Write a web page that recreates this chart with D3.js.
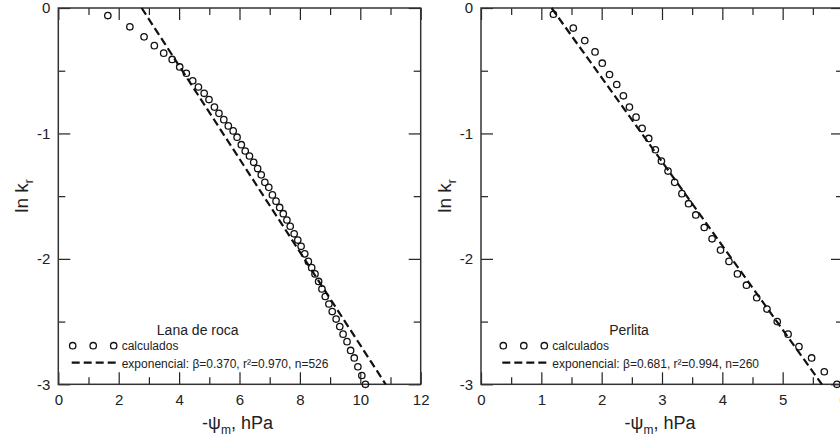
<!DOCTYPE html>
<html>
<head>
<meta charset="utf-8">
<script src="https://cdn.jsdelivr.net/npm/d3@7"></script>
<style>
  body { margin: 0; background: #fff; }
  svg { display: block; }
  text { font-family: "Liberation Sans", Arial, sans-serif; fill: #222; }
</style>
</head>
<body>
<svg id="chart" width="840" height="441"></svg>
<script>
// Lana de roca: calculated points
const lanaX = [1.64, 2.37, 2.84, 3.18, 3.49, 3.77, 4.02, 4.24, 4.45, 4.64, 4.83, 4.99, 5.17, 5.32, 5.48, 5.63, 5.79, 5.92,
    6.06, 6.19, 6.33, 6.47, 6.60, 6.72, 6.84, 6.97, 7.09, 7.21, 7.33, 7.45, 7.57, 7.68, 7.81, 7.93, 8.04, 8.16,
    8.28, 8.39, 8.50, 8.62, 8.73, 8.84, 8.96, 9.07, 9.20, 9.32, 9.43, 9.56, 9.68, 9.80, 9.92, 10.05, 10.17];
const lanaY = [-0.06, -0.15, -0.23, -0.30, -0.36, -0.41, -0.47, -0.52, -0.58, -0.63, -0.68, -0.73, -0.79, -0.84, -0.89, -0.94, -0.98, -1.03,
    -1.09, -1.14, -1.18, -1.23, -1.28, -1.33, -1.39, -1.43, -1.49, -1.54, -1.59, -1.64, -1.69, -1.74, -1.80, -1.85, -1.90, -1.96,
    -2.02, -2.07, -2.12, -2.18, -2.24, -2.30, -2.36, -2.42, -2.48, -2.54, -2.60, -2.66, -2.73, -2.79, -2.86, -2.93, -3.00];
// exponential fit, end points
const lanaFitX = [2.76, 10.84];
const lanaFitY = [0, -3];

// Perlita
const perlitaX = [1.20, 1.53, 1.72, 1.89, 2.01, 2.13, 2.25, 2.36, 2.46, 2.57, 2.67, 2.78, 2.89, 2.99, 3.10, 3.21, 3.33,
    3.44, 3.56, 3.70, 3.83, 3.97, 4.11, 4.25, 4.40, 4.57, 4.74, 4.91, 5.09, 5.27, 5.48, 5.69, 5.90];
const perlitaY = [-0.05, -0.16, -0.26, -0.35, -0.44, -0.53, -0.61, -0.70, -0.79, -0.87, -0.96, -1.04, -1.13, -1.22, -1.30, -1.39, -1.48,
    -1.56, -1.65, -1.75, -1.84, -1.93, -2.02, -2.12, -2.21, -2.31, -2.40, -2.50, -2.60, -2.70, -2.79, -2.90, -3.00];
const perlitaFitX = [1.17, 5.65];
const perlitaFitY = [0, -3];

// ticks
const yMajor = [0, -1, -2, -3];
const yMinor = [-0.5, -1.5, -2.5];
const lanaXMajor = [0, 2, 4, 6, 8, 10, 12];
const lanaXMinor = [1, 3, 5, 7, 9, 11];
const perlitaXMajor = [0, 1, 2, 3, 4, 5, 6];
const perlitaXMinor = [0.5, 1.5, 2.5, 3.5, 4.5, 5.5];

const fitLabels = ["exponencial: \u03b2=0.370, r\u00b2=0.970, n=526", "exponencial: \u03b2=0.681, r\u00b2=0.994, n=260"];
const titles = ["Lana de roca", "Perlita"];

const svg = d3.select("#chart");
const top_ = 8, bottom = 384.3;
const plain = d => String(d);

function drawPanel(p) {
    const x = d3.scaleLinear().domain(p.xDomain).range([p.left, p.right]);
    const y = d3.scaleLinear().domain([-3, 0]).range([bottom, top_]);
    const g = svg.append("g");

    // axes, ticks pointing inward on all sides
    const axes = [
        [d3.axisBottom(x).tickValues(p.major).tickSize(-12).tickPadding(10).tickFormat(plain), `translate(0,${bottom})`],
        [d3.axisBottom(x).tickValues(p.minor).tickSize(-7).tickFormat(""), `translate(0,${bottom})`],
        [d3.axisTop(x).tickValues(p.major).tickSize(-12).tickFormat(""), `translate(0,${top_})`],
        [d3.axisTop(x).tickValues(p.minor).tickSize(-7).tickFormat(""), `translate(0,${top_})`],
        [d3.axisLeft(y).tickValues(yMajor).tickSize(-12).tickPadding(8).tickFormat(plain), `translate(${p.left},0)`],
        [d3.axisLeft(y).tickValues(yMinor).tickSize(-7).tickFormat(""), `translate(${p.left},0)`],
        [d3.axisRight(y).tickValues(yMajor).tickSize(-12).tickFormat(""), `translate(${p.right},0)`],
        [d3.axisRight(y).tickValues(yMinor).tickSize(-7).tickFormat(""), `translate(${p.right},0)`]
    ];
    axes.forEach(a => {
        const ag = g.append("g").attr("transform", a[1]).call(a[0]);
        ag.select(".domain").remove();
        ag.selectAll("line").attr("stroke", "#222").attr("stroke-width", 1.2);
        ag.selectAll("text")
            .attr("font-size", 15)
            .attr("font-family", '"Liberation Sans", Arial, sans-serif')
            .attr("fill", "#222");
    });

    g.append("rect")
        .attr("x", p.left).attr("y", top_)
        .attr("width", p.right - p.left).attr("height", bottom - top_)
        .attr("fill", "none").attr("stroke", "#333").attr("stroke-width", 1.5);

    // fit line
    const line = d3.line().x(d => x(d[0])).y(d => y(d[1]));
    g.append("path")
        .datum(d3.zip(p.fitX, p.fitY))
        .attr("d", line)
        .attr("fill", "none").attr("stroke", "#111")
        .attr("stroke-width", 2.2).attr("stroke-dasharray", "8,4");

    // points
    g.append("g").selectAll("circle")
        .data(d3.zip(p.xs, p.ys))
        .enter().append("circle")
        .attr("cx", d => x(d[0]))
        .attr("cy", d => y(d[1]))
        .attr("r", 3.2)
        .attr("fill", "none")
        .attr("stroke", "#111")
        .attr("stroke-width", 1.3);

    // legend
    const lx = p.left + p.legendDx;
    g.append("text")
        .attr("x", p.left + p.titleDx).attr("y", 335)
        .attr("text-anchor", "middle").attr("font-size", 14)
        .text(p.title);
    [0, 20.5, 41].forEach(o => {
        g.append("circle")
            .attr("cx", lx + o).attr("cy", 345.7).attr("r", 3.2)
            .attr("fill", "none").attr("stroke", "#111").attr("stroke-width", 1.3);
    });
    g.append("text").attr("x", lx + 49).attr("y", 349.5).attr("font-size", 12).text("calculados");
    g.append("line")
        .attr("x1", lx - 1).attr("x2", lx + 43).attr("y1", 362.7).attr("y2", 362.7)
        .attr("stroke", "#111").attr("stroke-width", 2.2).attr("stroke-dasharray", "8,4");
    g.append("text").attr("x", lx + 49).attr("y", 367.5).attr("font-size", 12).text(p.fitLabel);

    // axis titles
    const xl = g.append("text")
        .attr("x", (p.left + p.right) / 2 - 2).attr("y", 429)
        .attr("text-anchor", "middle").attr("font-size", 18);
    xl.append("tspan").text("-\u03c8");
    xl.append("tspan").attr("font-size", 12).attr("dy", 5).text("m");
    xl.append("tspan").attr("dy", -5).text(", hPa");

    const yl = g.append("text")
        .attr("transform", `translate(${p.left - 30},196) rotate(-90)`)
        .attr("text-anchor", "middle").attr("font-size", 19);
    yl.append("tspan").text("ln k");
    yl.append("tspan").attr("font-size", 12).attr("dy", 5).text("r");
}

drawPanel({
    left: 58.3, right: 420.7, xDomain: [0, 12],
    major: lanaXMajor, minor: lanaXMinor,
    xs: lanaX, ys: lanaY, fitX: lanaFitX, fitY: lanaFitY,
    title: titles[0], fitLabel: fitLabels[0], legendDx: 14.4, titleDx: 139.4
});
drawPanel({
    left: 481, right: 843, xDomain: [0, 6],
    major: perlitaXMajor, minor: perlitaXMinor,
    xs: perlitaX, ys: perlitaY, fitX: perlitaFitX, fitY: perlitaFitY,
    title: titles[1], fitLabel: fitLabels[1], legendDx: 22.3, titleDx: 148
});
</script>
</body>
</html>
